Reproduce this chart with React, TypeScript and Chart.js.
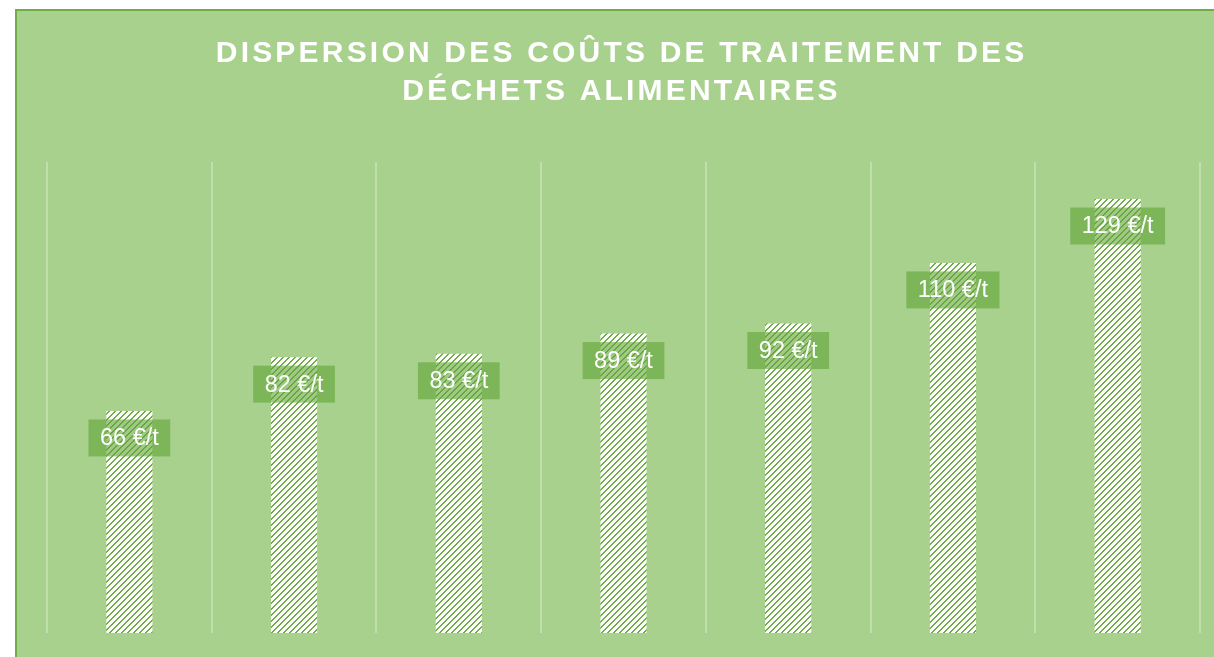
import { useEffect, useRef } from 'react';
import { Chart, registerables } from 'chart.js';

Chart.register(...registerables);

const categories = ['1', '2', '3', '4', '5', '6', '7'];
const costValues = [66, 82, 83, 89, 92, 110, 129];
const titleLines = ['DISPERSION DES COÛTS DE TRAITEMENT DES', 'DÉCHETS ALIMENTAIRES'];
const unitLabel = '€/t';

const GREEN_BG = '#a9d18e';
const GREEN_DARK = '#70ad47';

function makeHatch(): CanvasPattern | string {
  const tile = document.createElement('canvas');
  const n = 6;
  tile.width = n;
  tile.height = n;
  const t = tile.getContext('2d');
  if (!t) return '#ffffff';
  t.fillStyle = '#ffffff';
  t.fillRect(0, 0, n, n);
  t.fillStyle = GREEN_DARK;
  for (let y = 0; y < n; y++) {
    const x = n - 1 - y;
    t.fillRect(x, y, 1, 1);
    t.fillRect((x + 1) % n, y, 1, 1);
  }
  const main = document.createElement('canvas').getContext('2d');
  const p = main ? main.createPattern(tile, 'repeat') : null;
  return p || '#ffffff';
}

const titlePlugin = {
  id: 'customTitle',
  afterDraw(chart: any) {
    const ctx = chart.ctx as CanvasRenderingContext2D;
    ctx.save();
    ctx.fillStyle = '#ffffff';
    ctx.font = 'bold 30px "Liberation Sans", Arial, sans-serif';
    ctx.textAlign = 'center';
    ctx.textBaseline = 'alphabetic';
    (ctx as any).letterSpacing = '3.2px';
    const cx = 603 + 1.6;
    ctx.fillText(titleLines[0], cx, 51);
    ctx.fillText(titleLines[1], cx, 89);
    ctx.restore();
  },
};

const labelPlugin = {
  id: 'boxLabels',
  afterDatasetsDraw(chart: any) {
    const ctx = chart.ctx as CanvasRenderingContext2D;
    const meta = chart.getDatasetMeta(0);
    ctx.save();
    ctx.font = '23.5px "Liberation Sans", Arial, sans-serif';
    ctx.textAlign = 'center';
    ctx.textBaseline = 'middle';
    meta.data.forEach((bar: any, i: number) => {
      const text = `${costValues[i]} ${unitLabel}`;
      const tw = ctx.measureText(text).width;
      const w = tw + 23;
      const h = 37;
      const cx = bar.x;
      const cy = bar.y + 27;
      ctx.fillStyle = 'rgba(97,164,54,0.6)';
      ctx.fillRect(cx - w / 2, cy - h / 2, w, h);
      ctx.fillStyle = '#ffffff';
      ctx.fillText(text, cx, cy + 1);
    });
    ctx.restore();
  },
};

export default function App() {
  const ref = useRef<HTMLCanvasElement | null>(null);

  useEffect(() => {
    if (!ref.current) return;
    const hatch = makeHatch();
    const chart = new Chart(ref.current, {
      type: 'bar',
      data: {
        labels: categories,
        datasets: [
          {
            data: costValues,
            backgroundColor: hatch as any,
            borderWidth: 0,
            categoryPercentage: 1,
            barPercentage: 0.28,
          },
        ],
      },
      options: {
        responsive: false,
        animation: false,
        layout: { padding: { left: 30, right: 29, top: 151, bottom: 38 } },
        plugins: {
          legend: { display: false },
          title: { display: false },
          tooltip: { enabled: false },
        },
        scales: {
          x: {
            offset: true,
            grid: {
              offset: true,
              color: 'rgba(255,255,255,0.28)',
              lineWidth: 2,
              drawTicks: false,
            },
            border: { display: false },
            ticks: { display: false },
          },
          y: {
            display: false,
            min: 0,
            max: 140,
          },
        },
      },
      plugins: [titlePlugin, labelPlugin],
    });
    return () => chart.destroy();
  }, []);

  return (
    <div
      style={{
        position: 'fixed',
        left: 0,
        top: 0,
        width: 1214,
        height: 657,
        overflow: 'hidden',
        background: '#ffffff',
      }}
    >
      <div
        style={{
          position: 'absolute',
          left: 15,
          top: 9,
          width: 1212,
          height: 700,
          border: `2px solid ${GREEN_DARK}`,
          background: GREEN_BG,
        }}
      >
        <canvas ref={ref} width={1212} height={660} style={{ display: 'block' }} />
      </div>
    </div>
  );
}
